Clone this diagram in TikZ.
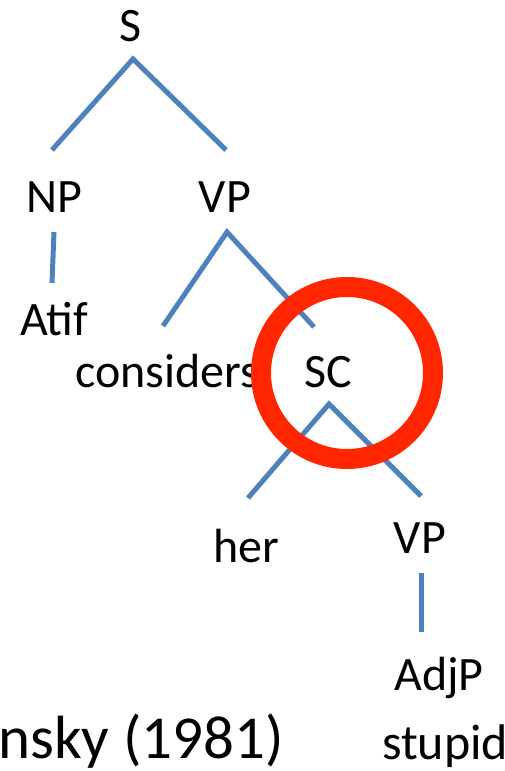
\documentclass[tikz,border=0pt]{standalone}
\usepackage{fontspec}
\setmainfont{Carlito}
\usetikzlibrary{positioning}
\definecolor{branchblue}{RGB}{79,129,189}
\definecolor{ringred}{RGB}{255,38,0}

\begin{document}
\begin{tikzpicture}[x=1pt,y=-1pt,
  every node/.style={font=\fontsize{48}{58}\selectfont,inner sep=0pt,anchor=base},
  branch/.style={branchblue,line width=5pt}]
\useasboundingbox (0,0) rectangle (504,771);
\clip (0,0) rectangle (504,771);
% category and word labels
\node (S) at (131,41) {S};
\node (NP) at (54,212) {NP};
\node (VP) at (225,212) {VP};
\node (Atif) at (54,335) {Atif};
\node[anchor=base west] (V) at (75,387) {considers};
\node (SC) at (328,387) {SC};
\node (her) at (246,562) {her};
\node (VPs) at (420,553) {VP};
\node (AdjP) at (439,690) {AdjP};
\node[anchor=base west,font=\fontsize{50}{60}\selectfont] (Adj) at (382,759) {stupid};
\node[anchor=base west,font=\fontsize{61}{72}\selectfont] (cite) at (-2,758) {nsky (1981)};
% where the branches meet the labels
\coordinate (S-b) at (133,59);
\coordinate (NP-t) at (52,150);
\coordinate (VP-t) at (226,150);
\coordinate (NP-b) at (54,232);
\coordinate (Atif-t) at (52,283);
\coordinate (VP-b) at (227,232);
\coordinate (V-t) at (163,326);
\coordinate (SC-t) at (314,327);
\coordinate (SC-b) at (329,404);
\coordinate (her-t) at (248,498);
\coordinate (VPs-t) at (421,496);
\coordinate (VPs-b) at (421,573);
\coordinate (AdjP-t) at (421,632);
% branches
\draw[branch] (NP-t) -- (S-b) -- (VP-t);
\draw[branch] (NP-b) -- (Atif-t);
\draw[branch] (V-t) -- (VP-b) -- (SC-t);
\draw[branch] (her-t) -- (SC-b) -- (VPs-t);
\draw[branch] (VPs-b) -- (AdjP-t);
% the ring round SC
\draw[ringred,line width=20pt] (347,373) circle (86);
\end{tikzpicture}
\end{document}
